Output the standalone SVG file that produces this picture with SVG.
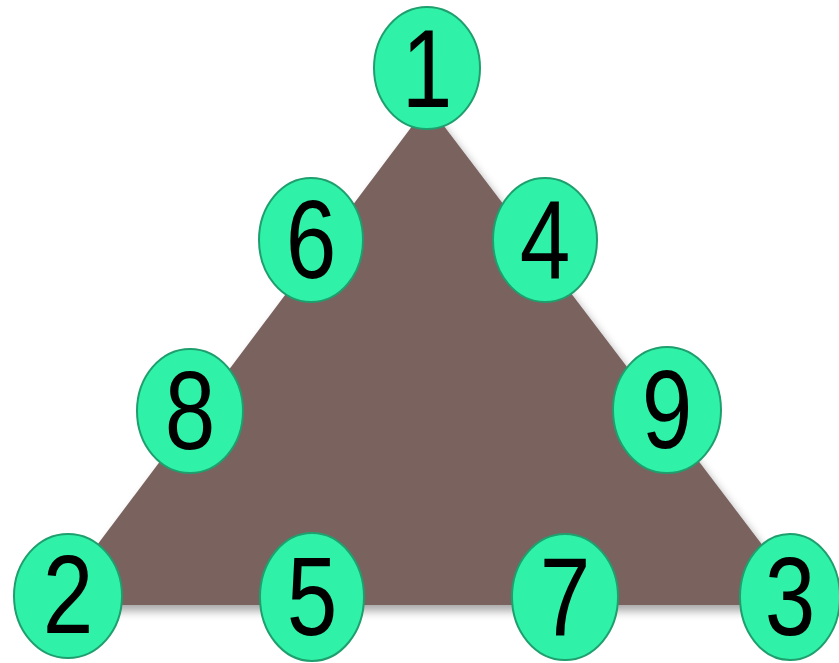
<svg xmlns="http://www.w3.org/2000/svg" width="839" height="663" viewBox="0 0 839 663">
<defs>
<style>
.n ellipse{fill:#2ff2a8;stroke:#1f9e6e;stroke-width:2}
.n text{font-family:"Liberation Sans",Arial,sans-serif;font-size:111px;fill:#000;text-anchor:middle}
</style>
<filter id="sh" x="-10%" y="-10%" width="120%" height="130%">
<feGaussianBlur in="SourceAlpha" stdDeviation="5"/>
<feOffset dx="3" dy="6"/>
<feComponentTransfer><feFuncA type="linear" slope="0.35"/></feComponentTransfer>
<feMerge><feMergeNode/><feMergeNode in="SourceGraphic"/></feMerge>
</filter>
</defs>
<rect width="839" height="663" fill="#ffffff"/>
<g id="triangle"><polygon points="428,105 52,605 808,605" fill="#7a625e" filter="url(#sh)"/></g>
<g id="connectors"></g>
<g id="n1" class="n"><ellipse cx="427" cy="68" rx="53" ry="61"/><text transform="translate(427,107) scale(0.82,1)">1</text></g>
<g id="n6" class="n"><ellipse cx="311" cy="240" rx="52" ry="62"/><text transform="translate(311,278) scale(0.82,1)">6</text></g>
<g id="n4" class="n"><ellipse cx="545" cy="240" rx="52" ry="62"/><text transform="translate(545,278) scale(0.82,1)">4</text></g>
<g id="n8" class="n"><ellipse cx="190" cy="411" rx="53" ry="62"/><text transform="translate(190,449) scale(0.82,1)">8</text></g>
<g id="n9" class="n"><ellipse cx="667" cy="410" rx="54" ry="63"/><text transform="translate(667,448) scale(0.82,1)">9</text></g>
<g id="n2" class="n"><ellipse cx="68" cy="596" rx="54" ry="62"/><text transform="translate(68,633) scale(0.82,1)">2</text></g>
<g id="n5" class="n"><ellipse cx="312" cy="597" rx="52" ry="64"/><text transform="translate(312,635) scale(0.82,1)">5</text></g>
<g id="n7" class="n"><ellipse cx="565" cy="597" rx="53" ry="63"/><text transform="translate(565,635) scale(0.82,1)">7</text></g>
<g id="n3" class="n"><ellipse cx="790" cy="597" rx="50" ry="63"/><text transform="translate(790,635) scale(0.82,1)">3</text></g>
</svg>
